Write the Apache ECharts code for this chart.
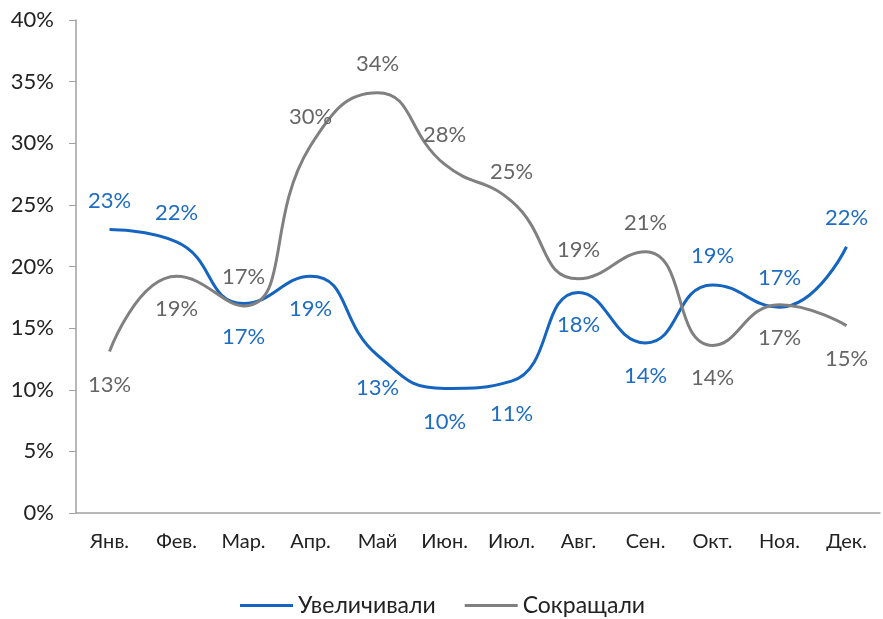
<!DOCTYPE html>
<html>
<head>
<meta charset="utf-8">
<script src="https://cdn.jsdelivr.net/npm/echarts@6/dist/echarts.min.js"></script>
<style>
  html, body { margin: 0; padding: 0; background: #fff; }
  #chart { width: 883px; height: 619px; }
</style>
</head>
<body>
<div id="chart"></div>
<script>
// данные (в процентах)
var months = ['Янв.', 'Фев.', 'Мар.', 'Апр.', 'Май', 'Июн.', 'Июл.', 'Авг.', 'Сен.', 'Окт.', 'Ноя.', 'Дек.'];
var increased = [23.0, 22.0, 17.0, 19.2, 12.8, 10.1, 10.7, 17.9, 13.8, 18.5, 16.7, 21.6];
var decreased = [13.1, 19.2, 16.8, 29.8, 34.1, 28.3, 25.3, 19.0, 21.2, 13.6, 16.9, 15.2];
var seriesNames = ['Увеличивали', 'Сокращали'];

var FONT = 'Lato';
var BLUE = '#1565c0';
var GRAY = '#808080';

// где стоит подпись у каждой точки
var incPos = ['top', 'top', 'bottom', 'bottom', 'bottom', 'bottom', 'bottom', 'bottom', 'bottom', 'top', 'top', 'top'];
var decPos = ['bottom', 'bottom', 'top', 'top', 'top', 'top', 'top', 'top', 'top', 'bottom', 'bottom', 'bottom'];

function withLabels(values, pos) {
  return values.map(function (v, i) {
    return {
      value: v,
      label: { position: pos[i], distance: pos[i] === 'top' ? 17 : 21 }
    };
  });
}

var chart = echarts.init(document.getElementById('chart'));
chart.setOption({
  animation: false,
  textStyle: { fontFamily: FONT },
  grid: { left: 76, right: 3, top: 20, bottom: 106, containLabel: false },
  legend: {
    top: 594,
    left: 240,
    padding: 0,
    itemWidth: 53,
    itemHeight: 3,
    itemGap: 29,
    textStyle: { fontFamily: FONT, fontSize: 23, color: '#222' },
    data: [
      { name: seriesNames[0], icon: 'rect', itemStyle: { color: BLUE } },
      { name: seriesNames[1], icon: 'rect', itemStyle: { color: GRAY } }
    ]
  },
  xAxis: {
    type: 'category',
    data: months,
    boundaryGap: true,
    axisLine: { lineStyle: { color: '#a0a0a0', width: 1.5 } },
    axisTick: { show: false },
    axisLabel: { fontFamily: FONT, fontSize: 20, color: '#222', margin: 19 }
  },
  yAxis: {
    type: 'value',
    min: 0,
    max: 40,
    interval: 5,
    splitLine: { show: false },
    axisLine: { show: true, lineStyle: { color: '#a0a0a0', width: 1.5 } },
    axisTick: { show: true, length: 7, lineStyle: { color: '#a0a0a0' } },
    axisLabel: {
      fontFamily: FONT, fontSize: 22, color: '#222', margin: 22,
      formatter: function (v) { return v + '%'; }
    }
  },
  series: [
    {
      name: seriesNames[0],
      type: 'line',
      smooth: 0.5,
      symbol: 'circle',
      symbolSize: 2,
      showSymbol: true,
      lineStyle: { color: BLUE, width: 3 },
      itemStyle: { color: 'rgba(0,0,0,0)' },
      label: {
        show: true,
        fontFamily: FONT, fontSize: 22, color: '#1e6cc3',
        formatter: function (p) { return Math.round(p.value) + '%'; }
      },
      data: withLabels(increased, incPos)
    },
    {
      name: seriesNames[1],
      type: 'line',
      smooth: 0.5,
      symbol: 'circle',
      symbolSize: 2,
      showSymbol: true,
      lineStyle: { color: GRAY, width: 3 },
      itemStyle: { color: 'rgba(0,0,0,0)' },
      label: {
        show: true,
        fontFamily: FONT, fontSize: 22, color: '#666',
        formatter: function (p) { return Math.round(p.value) + '%'; }
      },
      data: withLabels(decreased, decPos)
    }
  ]
});
</script>
</body>
</html>
